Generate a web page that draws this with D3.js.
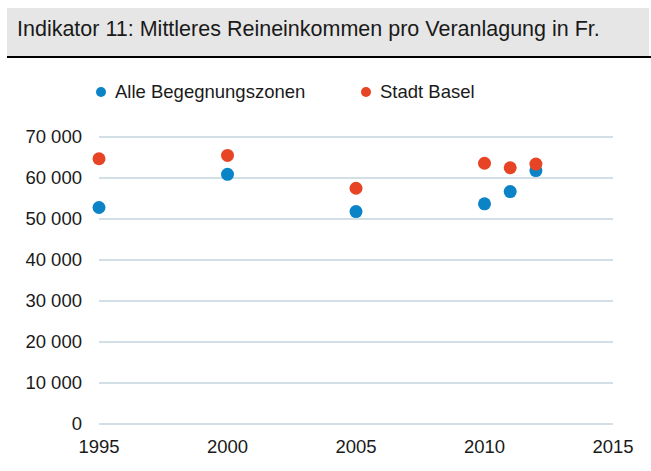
<!DOCTYPE html>
<html>
<head>
<meta charset="utf-8">
<script src="https://cdn.jsdelivr.net/npm/d3@7"></script>
<style>
  body { margin: 0; background: #fff; }
  svg { display: block; font-family: "Liberation Sans", Arial, sans-serif; }
</style>
</head>
<body>
<svg id="chart" width="651" height="471"></svg>
<script>
// data
var years = [1995, 2000, 2005, 2010, 2011, 2012];
var begegnungszonen = [52800, 60900, 51800, 53700, 56700, 61800];
var stadtBasel = [64700, 65500, 57500, 63600, 62500, 63400];
var seriesNames = ["Alle Begegnungszonen", "Stadt Basel"];
var yTicks = [0, 10000, 20000, 30000, 40000, 50000, 60000, 70000];
var xTicks = [1995, 2000, 2005, 2010, 2015];

var colors = ["#0a84c6", "#e64425"];

var svg = d3.select("#chart");
var width = 651, height = 471;
var margin = {top: 137, right: 38, bottom: 47, left: 99};

// title box
svg.append("rect")
  .attr("x", 7).attr("y", 8)
  .attr("width", width - 9).attr("height", 48)
  .style("fill", "#e6e6e6");
svg.append("line")
  .attr("x1", 7).attr("x2", width)
  .attr("y1", 57).attr("y2", 57)
  .style("stroke", "#000").style("stroke-width", 2);
svg.append("text")
  .attr("x", 17).attr("y", 35.5)
  .style("font-size", "21.5px")
  .style("fill", "#1a1a1a")
  .text("Indikator 11: Mittleres Reineinkommen pro Veranlagung in Fr.");

var x = d3.scaleLinear().domain([1995, 2015]).range([margin.left, width - margin.right]);
var y = d3.scaleLinear().domain([0, 70000]).range([height - margin.bottom, margin.top]);

var fmt = function(v) { return d3.format(",")(v).replace(/,/g, " "); };

// gridlines
svg.append("g")
  .selectAll("line")
  .data(yTicks)
  .enter().append("line")
  .attr("x1", x(1995)).attr("x2", x(2015))
  .attr("y1", d => y(d)).attr("y2", d => y(d))
  .style("stroke", "#c3d4df")
  .style("stroke-width", 1.5);

// y axis labels
svg.append("g")
  .selectAll("text")
  .data(yTicks)
  .enter().append("text")
  .attr("x", 82)
  .attr("y", d => y(d))
  .attr("dy", "0.35em")
  .attr("text-anchor", "end")
  .style("font-size", "18.5px")
  .style("fill", "#1a1a1a")
  .text(fmt);

// x axis labels
svg.append("g")
  .selectAll("text")
  .data(xTicks)
  .enter().append("text")
  .attr("x", d => x(d))
  .attr("y", y(0) + 29)
  .attr("text-anchor", "middle")
  .style("font-size", "18.5px")
  .style("fill", "#1a1a1a")
  .text(d => d);

// points
var series = [begegnungszonen, stadtBasel];
series.forEach(function(vals, i) {
  svg.append("g")
    .selectAll("circle")
    .data(years.map((yr, j) => ({year: yr, value: vals[j]})))
    .enter().append("circle")
    .attr("cx", d => x(d.year))
    .attr("cy", d => y(d.value))
    .attr("r", 6.5)
    .style("fill", colors[i]);
});

// legend
var legendX = [101, 366];
var legend = svg.append("g")
  .selectAll("g")
  .data(seriesNames)
  .enter().append("g")
  .attr("transform", (d, i) => "translate(" + legendX[i] + ",92)");
legend.append("circle")
  .attr("r", 5)
  .style("fill", (d, i) => colors[i]);
legend.append("text")
  .attr("x", 14)
  .attr("dy", "0.35em")
  .style("font-size", "18.5px")
  .style("fill", "#1a1a1a")
  .text(d => d);
</script>
</body>
</html>
